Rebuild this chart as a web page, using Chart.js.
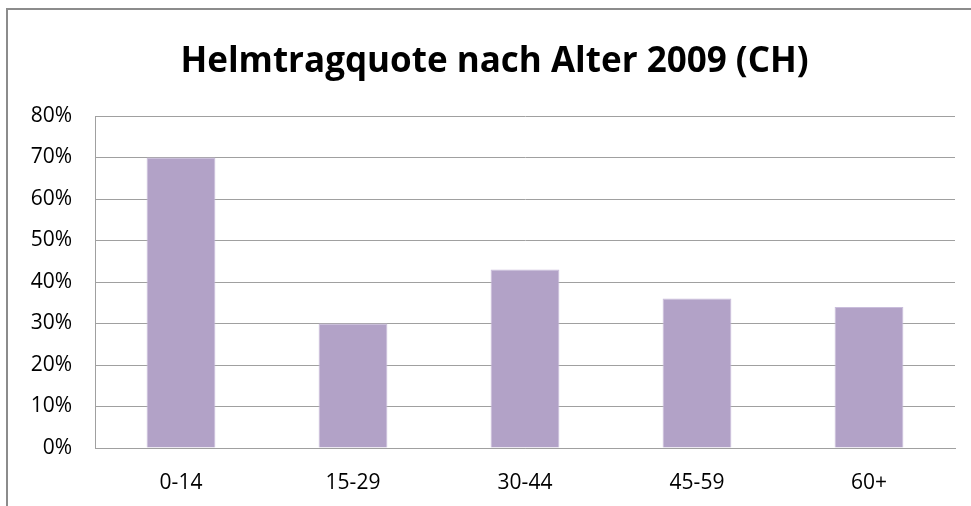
<!DOCTYPE html>
<html>
<head>
<meta charset="utf-8">
<script src="https://cdn.jsdelivr.net/npm/chart.js@4.4.1/dist/chart.umd.min.js"></script>
<style>
  html, body { margin: 0; padding: 0; background: #fff; }
  #wrap { position: relative; width: 971px; height: 506px; }
  #frame { position: absolute; left: 6px; top: 8px; right: -4px; bottom: -4px; border-left: 2px solid #8c8c8c; border-top: 2px solid #8c8c8c; pointer-events: none; }
</style>
</head>
<body>
<div id="wrap">
  <canvas id="chart" width="971" height="506"></canvas>
  <div id="frame"></div>
</div>
<script>
const titulo = 'Helmtragquote nach Alter 2009 (CH)';
const categorias = ['0-14', '15-29', '30-44', '45-59', '60+'];
const quotas = [70, 30, 43, 36, 34];
const yMax = 80;
const yStep = 10;

const fuente = "'Open Sans', 'Liberation Sans', sans-serif";
const grisLinea = '#a0a0a0';

// el titulo en el original esta un poco corrido a la derecha
const moverTitulo = {
  id: 'moverTitulo',
  afterLayout(chart) {
    if (chart.titleBlock) chart.titleBlock.left = 34;
  },
};

const ctx = document.getElementById('chart').getContext('2d');
new Chart(ctx, {
  type: 'bar',
  data: {
    labels: categorias,
    datasets: [
      {
        label: 'Helmtragquote',
        data: quotas,
        backgroundColor: '#b2a2c7',
        borderColor: '#c9bddb',
        borderWidth: 1,
        barPercentage: 0.4,
        categoryPercentage: 1,
      },
    ],
  },
  options: {
    responsive: false,
    animation: false,
    layout: { padding: { left: 0, right: 16, top: 0, bottom: 0 } },
    scales: {
      x: {
        grid: { display: false, drawTicks: false },
        border: { display: true, color: grisLinea, width: 1 },
        ticks: { color: '#000', font: { family: fuente, size: 21 }, padding: 22, maxRotation: 0 },
        afterFit: (scale) => { scale.height = 58; },
      },
      y: {
        min: 0,
        max: yMax,
        grid: { color: grisLinea, drawTicks: false },
        border: { display: true, color: grisLinea, width: 1 },
        ticks: {
          stepSize: yStep,
          color: '#000',
          font: { family: fuente, size: 21 },
          padding: 23,
          callback: (v) => v + '%',
        },
        afterFit: (scale) => { scale.width = 95; },
      },
    },
    plugins: {
      legend: { display: false },
      tooltip: { enabled: false },
      title: {
        display: true,
        text: titulo,
        color: '#000',
        font: { family: fuente, size: 35, weight: 'bold' },
        padding: { top: 41, bottom: 33 },
      },
    },
  },
  plugins: [moverTitulo],
});
</script>
</body>
</html>
